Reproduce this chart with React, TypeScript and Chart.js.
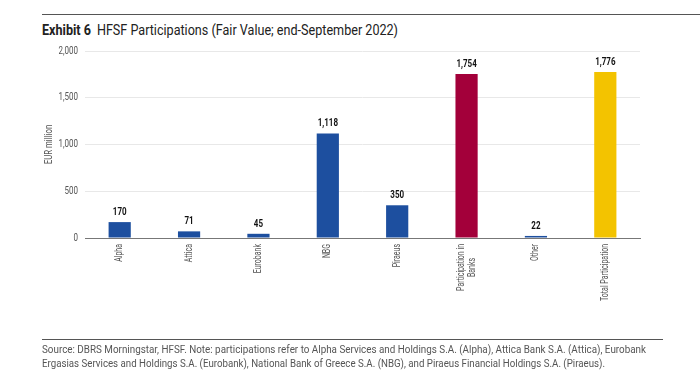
import React, { useEffect, useRef } from "react";
import { Chart, registerables } from "chart.js";

Chart.register(...registerables);

const categories: string[][] = [
  ["Alpha"],
  ["Attica"],
  ["Eurobank"],
  ["NBG"],
  ["Piraeus"],
  ["Participation in", "Banks"],
  ["Other"],
  ["Total Participation"],
];
const values: number[] = [170, 71, 45, 1118, 350, 1754, 22, 1776];
const barColors: string[] = [
  "#1d4f9f",
  "#1d4f9f",
  "#1d4f9f",
  "#1d4f9f",
  "#1d4f9f",
  "#a3003a",
  "#1d4f9f",
  "#f3c300",
];
const yTicks: number[] = [0, 500, 1000, 1500, 2000];
const yTitle = "EUR million";
const titleBold = "Exhibit 6";
const titleText = "HFSF Participations (Fair Value; end-September 2022)";
const footer1 =
  "Source: DBRS Morningstar, HFSF. Note: participations refer to Alpha Services and Holdings S.A. (Alpha), Attica Bank S.A. (Attica), Eurobank";
const footer2 =
  "Ergasias Services and Holdings S.A. (Eurobank), National Bank of Greece S.A. (NBG), and Piraeus Financial Holdings S.A. (Piraeus).";

const FONT = "Roboto, 'Liberation Sans', sans-serif";
const COND = 0.74;
const GRAY = "#555";

function measure(text: string, font: string): number {
  const c = document.createElement("canvas").getContext("2d")!;
  c.font = font;
  return c.measureText(text).width;
}

const customText = {
  id: "customText",
  afterDraw(chart: any) {
    const ctx = chart.ctx;
    const xs = chart.scales.x;
    const ys = chart.scales.y;
    const area = chart.chartArea;
    ctx.save();
    // y tick labels
    ctx.font = `10px ${FONT}`;
    ctx.fillStyle = GRAY;
    ctx.textBaseline = "middle";
    ctx.textAlign = "right";
    yTicks.forEach((v) => {
      const y = ys.getPixelForValue(v);
      ctx.save();
      ctx.translate(area.left - 7, y);
      ctx.scale(0.8, 1);
      ctx.fillText(v.toLocaleString("en-US"), 0, 0);
      ctx.restore();
    });
    // y title
    ctx.save();
    ctx.translate(area.left - 36, (area.top + area.bottom) / 2);
    ctx.rotate(-Math.PI / 2);
    ctx.scale(0.78, 1);
    ctx.textAlign = "center";
    ctx.fillText(yTitle, 0, 0);
    ctx.restore();
    // x labels
    categories.forEach((lines, i) => {
      const x = xs.getPixelForTick(i);
      const lh = 11;
      const widths = lines.map((l) => measure(l, `10px ${FONT}`) * 0.7);
      const maxW = Math.max(...widths);
      ctx.save();
      ctx.translate(x - ((lines.length - 1) * lh) / 2, area.bottom + 6);
      ctx.rotate(-Math.PI / 2);
      ctx.scale(0.7, 1);
      ctx.textAlign = "center";
      lines.forEach((l, j) => {
        ctx.fillText(l, -(maxW / 2) / 0.7, j * lh);
      });
      ctx.restore();
    });
    // value labels
    const meta = chart.getDatasetMeta(0);
    ctx.font = `bold 10px ${FONT}`;
    ctx.fillStyle = "#111";
    ctx.textAlign = "center";
    ctx.textBaseline = "alphabetic";
    meta.data.forEach((bar: any, i: number) => {
      ctx.save();
      ctx.translate(bar.x, bar.y - 7);
      ctx.scale(0.8, 1);
      ctx.fillText(values[i].toLocaleString("en-US"), 0, 0);
      ctx.restore();
    });
    ctx.restore();
  },
};

function Fit({ text, size, target, color, left, top }: any) {
  const w = measure(text, `${size}px ${FONT}`);
  const s = target / w;
  return (
    <div
      style={{
        position: "absolute",
        left,
        top,
        fontSize: size,
        color,
        whiteSpace: "nowrap",
        transform: `scaleX(${s})`,
        transformOrigin: "0 0",
        lineHeight: `${size + 2}px`,
      }}
    >
      {text}
    </div>
  );
}

export default function App() {
  const ref = useRef<HTMLCanvasElement>(null);
  useEffect(() => {
    if (!ref.current) return;
    const chart = new Chart(ref.current, {
      type: "bar",
      data: {
        labels: categories.map((c) => c.join(" ")),
        datasets: [
          {
            data: values,
            backgroundColor: barColors,
            borderWidth: 0,
            barPercentage: 0.32,
            categoryPercentage: 1,
          },
        ],
      },
      options: {
        responsive: false,
        animation: false,
        layout: { padding: { top: 51, right: 60, left: 0, bottom: 0 } },
        plugins: { legend: { display: false }, tooltip: { enabled: false } },
        scales: {
          x: {
            grid: { display: false, drawTicks: false },
            border: { display: true, color: "#777", width: 1 },
            ticks: { display: false, autoSkip: false },
            afterFit(scale: any) {
              scale.height = 137;
            },
          },
          y: {
            min: 0,
            max: 2000,
            afterBuildTicks(scale: any) {
              scale.ticks = yTicks.map((v) => ({ value: v }));
            },
            grid: { color: "#e8e8e8", drawTicks: false },
            border: { display: false },
            ticks: { display: false },
            afterFit(scale: any) {
              scale.width = 85;
            },
          },
        },
      },
      plugins: [customText],
    });
    return () => chart.destroy();
  }, []);

  const boldW = measure(titleBold, `bold 15px ${FONT}`);
  const restW = measure(titleText, `15px ${FONT}`);
  const spaceW = 6;
  const tScale = (398 - 42 - spaceW) / (boldW + restW);

  return (
    <div
      style={{
        position: "fixed",
        left: 0,
        top: 0,
        width: 700,
        height: 375,
        background: "#fff",
        fontFamily: FONT,
        overflow: "hidden",
      }}
    >
      <div style={{ position: "absolute", left: 42, top: 14, width: 658, height: 1, background: "#555" }} />
      <div
        style={{
          position: "absolute",
          left: 42,
          top: 21,
          fontSize: 15,
          color: "#222",
          whiteSpace: "nowrap",
          lineHeight: "18px",
          transform: `scaleX(${tScale})`,
          transformOrigin: "0 0",
        }}
      >
        <b>{titleBold}</b>
        <span style={{ display: "inline-block", width: spaceW / tScale }} />
        {titleText}
      </div>
      <canvas ref={ref} width={700} height={375} style={{ position: "absolute", left: 0, top: 0 }} />
      <div style={{ position: "absolute", left: 42, top: 339, width: 621, height: 1, background: "#555" }} />
      <Fit text={footer1} size={11} target={604} color={GRAY} left={42} top={343} />
      <Fit text={footer2} size={11} target={563} color={GRAY} left={42} top={357} />
    </div>
  );
}
